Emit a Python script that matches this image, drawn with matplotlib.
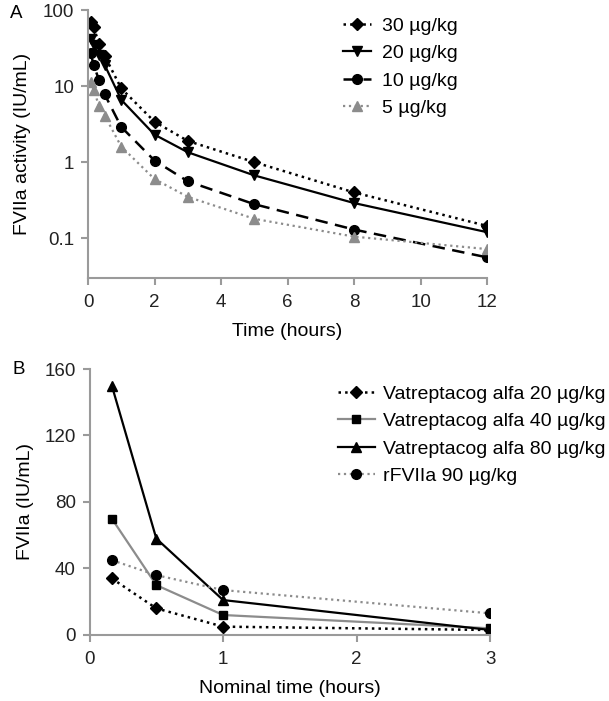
import matplotlib.pyplot as plt
import matplotlib.ticker as mticker
import numpy as np

plt.rcParams['font.family'] = ['Liberation Sans', 'DejaVu Sans']
plt.rcParams['font.size'] = 13.5

#================ data ============
t_a = [0.083, 0.167, 0.333, 0.5, 1, 2, 3, 5, 8, 12]
dose30 = [70, 60, 36, 25, 9.3, 3.4, 1.9, 1.0, 0.40, 0.145]
dose20 = [42, 35, 26, 19, 6.6, 2.3, 1.35, 0.67, 0.29, 0.12]
dose10 = [27, 19, 12, 7.8, 2.9, 1.05, 0.56, 0.28, 0.13, 0.056]
dose5 = [11.4, 8.9, 5.5, 4.1, 1.6, 0.6, 0.35, 0.18, 0.105, 0.072]
labels_a = ['30 µg/kg', '20 µg/kg', '10 µg/kg', '5 µg/kg']

t_b = [0.167, 0.5, 1, 3]
vat20 = [34, 16, 5, 3]
vat40 = [70, 30, 12, 4]
vat80 = [150, 58, 21, 3]
rf90 = [45, 36, 27, 13]
labels_b = ['Vatreptacog alfa 20 µg/kg', 'Vatreptacog alfa 40 µg/kg',
            'Vatreptacog alfa 80 µg/kg', 'rFVIIa 90 µg/kg']

grey = '#8c8c8c'
axcol = '#9a9a9a'
W, H = 609, 701

fig = plt.figure(figsize=(6.09, 7.01), dpi=100)
axA = fig.add_axes([0.1445, 0.6034, 0.6555, 0.3823])
axB = fig.add_axes([0.147, 0.0942, 0.658, 0.3794])


def style(ax):
    for s in ['top', 'right']:
        ax.spines[s].set_visible(False)
    for s in ['left', 'bottom']:
        ax.spines[s].set_color(axcol)
        ax.spines[s].set_linewidth(1.5)
    ax.tick_params(color=axcol, width=1.5, length=5, labelcolor='#222222')
    ax.tick_params(axis='x', pad=6.5)
    ax.tick_params(axis='y', pad=5)


#================ panel A ============
axA.plot(t_a, dose30, ':', color='black', lw=1.8, marker='D', ms=6, label=labels_a[0])
axA.plot(t_a, dose20, '-', color='black', lw=1.6, marker='v', ms=7, label=labels_a[1])
axA.plot(t_a, dose10, '--', color='black', lw=1.8, marker='o', ms=7, dashes=(5, 3), label=labels_a[2])
axA.plot(t_a, dose5, ':', color=grey, lw=1.6, marker='^', ms=7, label=labels_a[3])
axA.set_yscale('log')
axA.set_ylim(0.03, 100)
axA.set_xlim(0, 12)
axA.set_xticks(np.arange(0, 13, 2))
axA.set_yticks([0.1, 1, 10, 100])
axA.yaxis.set_major_formatter(mticker.FuncFormatter(lambda v, p: '%g' % v))
axA.yaxis.set_minor_locator(mticker.NullLocator())
axA.set_xlabel('Time (hours)', fontsize=14, labelpad=9)
axA.set_ylabel('FVIIa activity (IU/mL)', fontsize=14)
axA.yaxis.set_label_coords(31 / W, 0.5 * (0.6034 + 0.9857), transform=fig.transFigure)
style(axA)
axA.legend(loc='upper left', bbox_to_anchor=(343 / W, 1 - 17 / H), bbox_transform=fig.transFigure,
           frameon=False, fontsize=14, borderpad=0, borderaxespad=0,
           handlelength=1.45, handletextpad=0.55, labelspacing=0.51)

#================ panel B ============
axB.plot(t_b, vat20, ':', color='black', lw=1.8, marker='D', ms=6, label=labels_b[0])
axB.plot(t_b, vat40, '-', color=grey, lw=1.6, marker='s', ms=6, mfc='black', mec='black', label=labels_b[1])
axB.plot(t_b, vat80, '-', color='black', lw=1.6, marker='^', ms=7, label=labels_b[2])
axB.plot(t_b, rf90, ':', color=grey, lw=1.6, marker='o', ms=7, mfc='black', mec='black', label=labels_b[3])
axB.set_xlim(0, 3)
axB.set_ylim(0, 160)
axB.set_xticks([0, 1, 2, 3])
axB.set_yticks([0, 40, 80, 120, 160])
axB.set_xlabel('Nominal time (hours)', fontsize=14, labelpad=9)
axB.set_ylabel('FVIIa (IU/mL)', fontsize=14)
axB.yaxis.set_label_coords(34 / W, 0.5 * (0.0942 + 0.4736), transform=fig.transFigure)
style(axB)
axB.legend(loc='upper left', bbox_to_anchor=(338 / W, 1 - 385 / H), bbox_transform=fig.transFigure,
           frameon=False, fontsize=14, borderpad=0, borderaxespad=0,
           handlelength=1.9, handletextpad=0.4, labelspacing=0.51)

fig.text(10 / W, 1 - 13 / H, 'A', fontsize=13.5, va='center', ha='left')
fig.text(12 / W, 1 - 370 / H, 'B', fontsize=13.5, va='center', ha='left')

fig.savefig('out.png', dpi=100)
